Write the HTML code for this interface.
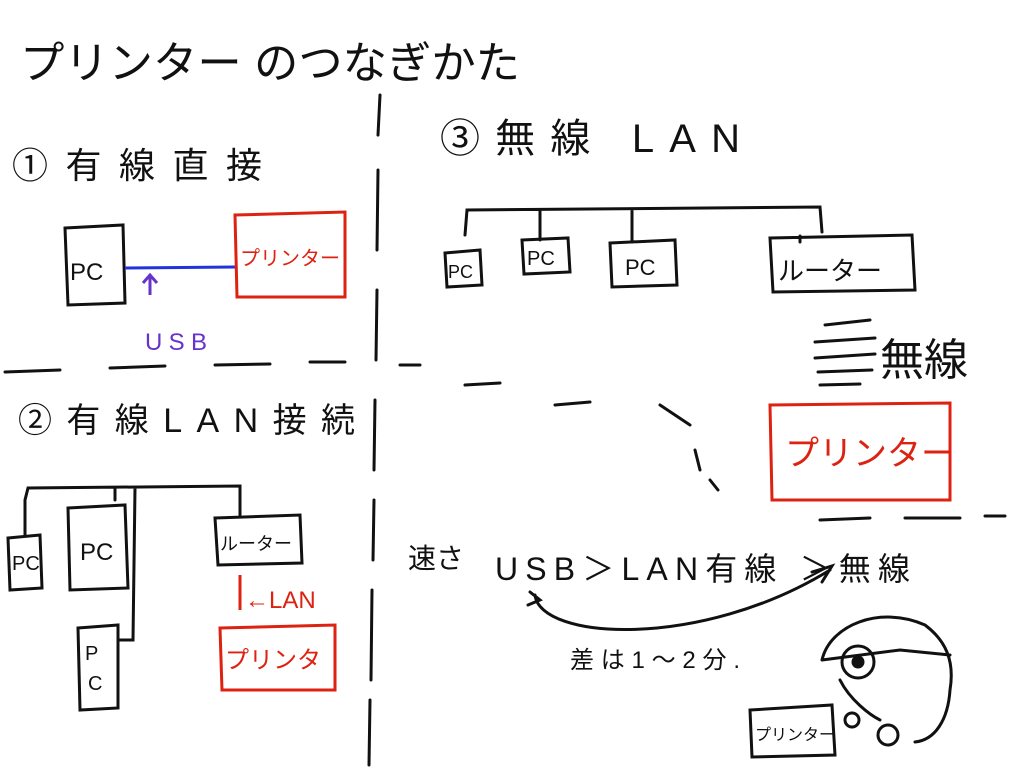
<!DOCTYPE html>
<html><head><meta charset="utf-8"><style>
html,body{margin:0;padding:0;background:#fff;}
svg{display:block;}
text{font-family:"Liberation Sans","Noto Sans CJK JP",sans-serif;}
</style></head><body>
<svg width="1024" height="768" viewBox="0 0 1024 768" xmlns="http://www.w3.org/2000/svg">
<rect width="1024" height="768" fill="#fff"/>
<g stroke="#111" stroke-width="3" fill="none" stroke-linecap="round">
<path d="M380 95 L378 135 M378 170 L377 250 M377 290 L376 360 M375 400 L374 470 M374 500 L373 560 M372 590 L371 680 M370 700 L369 765"/>
<path d="M5 372 L60 370 M110 368 L165 366 M215 365 L270 364 M310 362 L345 362 M400 365 L420 365"/>
<path d="M465 385 L500 383 M555 405 L590 402 M660 405 L690 425 M695 450 L700 470 M710 480 L718 490"/>
<path d="M820 520 L870 518 M905 518 L960 518 M985 516 L1005 516"/>
<path d="M65 228 L123 225 L125 303 L68 305 Z"/>
<path d="M25 500 L28 488 L240 486 L240 515 M115 488 L115 500 M135 488 L133 640 L118 640 M25 500 L25 535"/>
<path d="M8 538 L40 535 L42 588 L10 590 Z"/>
<path d="M68 508 L125 505 L128 588 L70 590 Z"/>
<path d="M78 628 L118 625 L118 708 L80 710 Z"/>
<path d="M215 518 L300 515 L302 563 L218 565 Z"/>
<path d="M465 235 L467 210 L820 207 L822 232 M540 210 L540 240 M632 210 L632 242"/>
<path d="M445 253 L480 250 L482 285 L447 287 Z"/>
<path d="M522 240 L568 238 L570 272 L524 274 Z"/>
<path d="M610 243 L675 240 L677 285 L612 287 Z"/>
<path d="M770 238 L912 235 L915 290 L773 292 Z M800 242 L800 236"/>
<path d="M825 325 L870 320 M815 342 L875 338 M815 358 L875 354 M818 372 L872 370 M820 385 L860 384"/>
<path d="M535 595 C540 640 700 650 830 570 M812 572 L832 566 L822 582 M530 592 L540 600 L528 605"/>
<path d="M822 660 C830 625 880 605 925 625 C945 640 955 660 950 690 C948 720 935 740 915 742 M822 660 L900 650 L950 655 M840 680 C850 700 870 715 880 720"/>
<circle cx="858" cy="662" r="16"/>
<circle cx="858" cy="662" r="5" fill="#111"/>
<circle cx="852" cy="720" r="7"/>
<circle cx="888" cy="735" r="10"/>
<path d="M750 710 L832 705 L835 755 L752 757 Z"/>
</g>
<path d="M125 268 L235 267" stroke="#2233dd" stroke-width="3"/>
<path d="M150 295 L150 275 M143 283 L150 275 L157 283" stroke="#6633cc" stroke-width="3" fill="none"/>
<g stroke="#dd2211" stroke-width="3" fill="none">
<path d="M235 215 L345 212 L345 297 L237 297 Z"/>
<path d="M240 575 L240 610"/>
<path d="M220 628 L335 625 L335 690 L222 690 Z"/>
<path d="M770 405 L950 403 L950 500 L772 500 Z"/>
</g>
<g fill="#111">
<text x="20" y="78" font-size="44" textLength="500" lengthAdjust="spacingAndGlyphs">プリンター のつなぎかた</text>
<text x="12" y="178" font-size="36" textLength="250" lengthAdjust="spacing">①有線直接</text>
<text x="18" y="432" font-size="34" textLength="337" lengthAdjust="spacing">②有線LAN接続</text>
<text x="440" y="152" font-size="40" textLength="300" lengthAdjust="spacing">③無線 LAN</text>
<text x="70" y="280" font-size="24">PC</text>
<text x="12" y="570" font-size="20">PC</text>
<text x="80" y="560" font-size="24">PC</text>
<text x="85" y="660" font-size="20">P</text>
<text x="88" y="690" font-size="20">C</text>
<text x="220" y="550" font-size="18">ルーター</text>
<text x="448" y="278" font-size="18">PC</text>
<text x="527" y="265" font-size="20">PC</text>
<text x="625" y="275" font-size="22">PC</text>
<text x="778" y="280" font-size="26">ルーター</text>
<text x="880" y="375" font-size="44">無線</text>
<text x="408" y="568" font-size="28">速さ</text>
<text x="495" y="580" font-size="32" textLength="415" lengthAdjust="spacing">USB＞LAN有線 ＞無線</text>
<text x="570" y="668" font-size="24" textLength="170" lengthAdjust="spacing">差は1〜2分.</text>
<text x="755" y="740" font-size="16">プリンター</text>
</g>
<g fill="#dd2211">
<text x="240" y="265" font-size="20">プリンター</text>
<text x="245" y="608" font-size="24">←LAN</text>
<text x="225" y="668" font-size="24">プリンタ</text>
<text x="785" y="465" font-size="34">プリンター</text>
</g>
<text x="145" y="350" font-size="24" fill="#6633cc" textLength="62" lengthAdjust="spacing">USB</text>
</svg>
</body></html>
